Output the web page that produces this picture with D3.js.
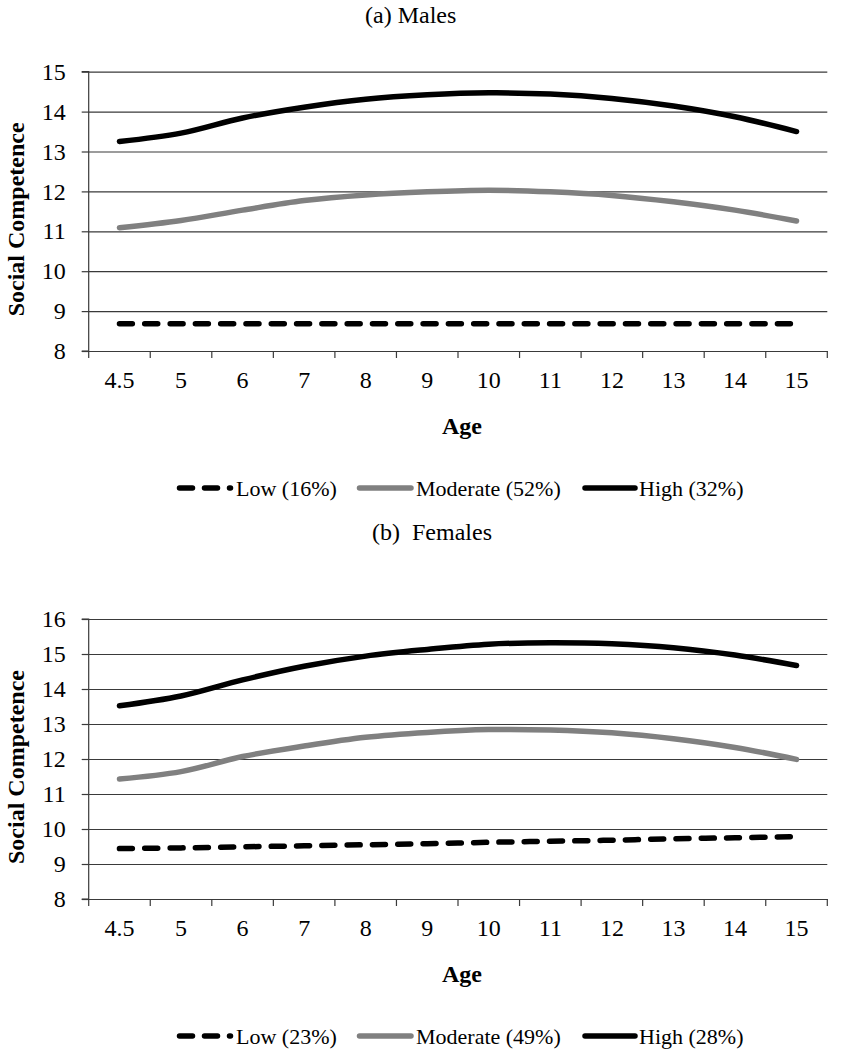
<!DOCTYPE html>
<html>
<head>
<meta charset="utf-8">
<script src="https://cdn.jsdelivr.net/npm/d3@7"></script>
<style>
  html, body { margin: 0; padding: 0; background: #fff; }
  svg { display: block; }
</style>
</head>
<body>
<svg id="chart" width="841" height="1050" font-family="Liberation Serif"></svg>
<script>
// ---- data ----
const ages = ["4.5", "5", "6", "7", "8", "9", "10", "11", "12", "13", "14", "15"];

const maleLow      = [8.68, 8.68, 8.68, 8.68, 8.68, 8.68, 8.68, 8.68, 8.68, 8.68, 8.68, 8.68];
const maleModerate = [11.09, 11.27, 11.53, 11.77, 11.91, 11.99, 12.03, 11.99, 11.90, 11.74, 11.53, 11.26];
const maleHigh     = [13.25, 13.46, 13.84, 14.11, 14.31, 14.42, 14.47, 14.44, 14.33, 14.14, 13.87, 13.50];

const femaleLow      = [9.44, 9.46, 9.49, 9.52, 9.55, 9.58, 9.62, 9.65, 9.68, 9.72, 9.75, 9.78];
const femaleModerate = [11.43, 11.64, 12.07, 12.37, 12.62, 12.76, 12.84, 12.83, 12.75, 12.58, 12.33, 11.99];
const femaleHigh     = [13.52, 13.80, 14.26, 14.65, 14.94, 15.13, 15.28, 15.32, 15.29, 15.18, 14.97, 14.67];

const maleTicks   = [8, 9, 10, 11, 12, 13, 14, 15];
const femaleTicks = [8, 9, 10, 11, 12, 13, 14, 15, 16];

const maleLegend   = ["Low (16%)", "Moderate (52%)", "High (32%)"];
const femaleLegend = ["Low (23%)", "Moderate (49%)", "High (28%)"];

const panelTitles = ["(a) Males", "(b)  Females"];
const yTitle = "Social Competence";
const xTitle = "Age";

// ---- drawing ----
const FONT = "Liberation Serif";
const svg = d3.select("#chart");
const left = 88.7, right = 827.3;

const styles = [
  { color: "#000", width: 5.5, dash: "13 12.3" },
  { color: "#808080", width: 5.5, dash: null },
  { color: "#000", width: 5.5, dash: null }
];

function txt(sel, size, bold) {
  return sel.attr("font-family", FONT).style("font-family", FONT)
    .style("font-size", size + "px").style("font-weight", bold ? "bold" : "normal")
    .attr("fill", "#000");
}

function panel(opts) {
  const g = svg.append("g");
  const x = d3.scaleBand().domain(ages).range([left, right]).padding(0);
  const y = d3.scaleLinear().domain([opts.ticks[0], opts.ticks[opts.ticks.length - 1]])
    .range([opts.bottom, opts.top]);

  // title
  txt(g.append("text")
    .attr("x", opts.titleX).attr("y", opts.titleY)
    .style("white-space", "pre")
    .text(opts.title), 24, false);

  // gridlines
  g.append("g")
    .attr("transform", `translate(${left},0)`)
    .call(d3.axisLeft(y).tickValues(opts.ticks).tickSize(-(right - left)).tickFormat(""))
    .call(s => s.select(".domain").remove())
    .call(s => s.selectAll("line").attr("stroke", "#3a3a3a").attr("stroke-width", 1.2));

  // y axis
  g.append("g")
    .attr("transform", `translate(${left},0)`)
    .call(d3.axisLeft(y).tickValues(opts.ticks).tickSize(7).tickPadding(16).tickFormat(d3.format("d")))
    .attr("font-family", FONT)
    .call(s => s.select(".domain").attr("stroke", "#3a3a3a").attr("stroke-width", 1.2).attr("d", `M-7,${opts.top}H0V${opts.bottom}H-7`).attr("fill", "none"))
    .call(s => s.selectAll("line").attr("stroke", "#3a3a3a").attr("stroke-width", 1.2))
    .call(s => txt(s.selectAll("text"), 24, false));

  // x axis: labels
  g.append("g")
    .attr("transform", `translate(0,${opts.bottom})`)
    .call(d3.axisBottom(x).tickSize(0).tickPadding(20))
    .attr("font-family", FONT)
    .call(s => s.select(".domain").attr("stroke", "#3a3a3a").attr("stroke-width", 1.2))
    .call(s => txt(s.selectAll("text"), 24, false));

  // x axis: tick marks at band boundaries
  const bounds = ages.map(a => x(a)).concat([x.range()[1]]);
  g.append("g").selectAll("line").data(bounds).join("line")
    .attr("x1", d => d).attr("x2", d => d)
    .attr("y1", opts.bottom).attr("y2", opts.bottom + 7)
    .attr("stroke", "#3a3a3a").attr("stroke-width", 1.2);

  // axis titles
  const cy = (opts.top + opts.bottom) / 2 + 8;
  txt(g.append("text")
    .attr("transform", `translate(24,${cy}) rotate(-90)`)
    .attr("text-anchor", "middle")
    .text(yTitle), 24, true);
  txt(g.append("text")
    .attr("x", 462).attr("y", opts.bottom + 83)
    .attr("text-anchor", "middle")
    .text(xTitle), 24, true);

  // lines
  const line = d3.line()
    .x((d, i) => x(ages[i]) + x.bandwidth() / 2)
    .y(d => y(d))
    .curve(d3.curveCatmullRom.alpha(0.5));
  opts.series.forEach((vals, i) => {
    const st = styles[i];
    g.append("path")
      .datum(vals)
      .attr("d", line)
      .attr("fill", "none")
      .attr("stroke", st.color)
      .attr("stroke-width", st.width)
      .attr("stroke-linecap", "round")
      .attr("stroke-linejoin", "round")
      .attr("stroke-dasharray", st.dash);
  });

  // legend
  const ly = opts.bottom + 137;
  const legendPos = [
    { x1: 179.5, x2: 230.5, tx: 236 },
    { x1: 359.5, x2: 411, tx: 416 },
    { x1: 585, x2: 635, tx: 639 }
  ];
  opts.legend.forEach((lab, i) => {
    const st = styles[i];
    const p = legendPos[i];
    g.append("line")
      .attr("x1", p.x1).attr("x2", p.x2).attr("y1", ly).attr("y2", ly)
      .attr("stroke", st.color).attr("stroke-width", st.width)
      .attr("stroke-linecap", "round")
      .attr("stroke-dasharray", st.dash ? "13 12" : null);
    txt(g.append("text")
      .attr("x", p.tx).attr("y", ly + 7.5)
      .text(lab), 22, false);
  });
}

panel({
  title: panelTitles[0], titleX: 365, titleY: 23,
  top: 71.7, bottom: 351,
  ticks: maleTicks,
  series: [maleLow, maleModerate, maleHigh],
  legend: maleLegend
});

panel({
  title: panelTitles[1], titleX: 372, titleY: 540,
  top: 619, bottom: 899,
  ticks: femaleTicks,
  series: [femaleLow, femaleModerate, femaleHigh],
  legend: femaleLegend
});
</script>
</body>
</html>
